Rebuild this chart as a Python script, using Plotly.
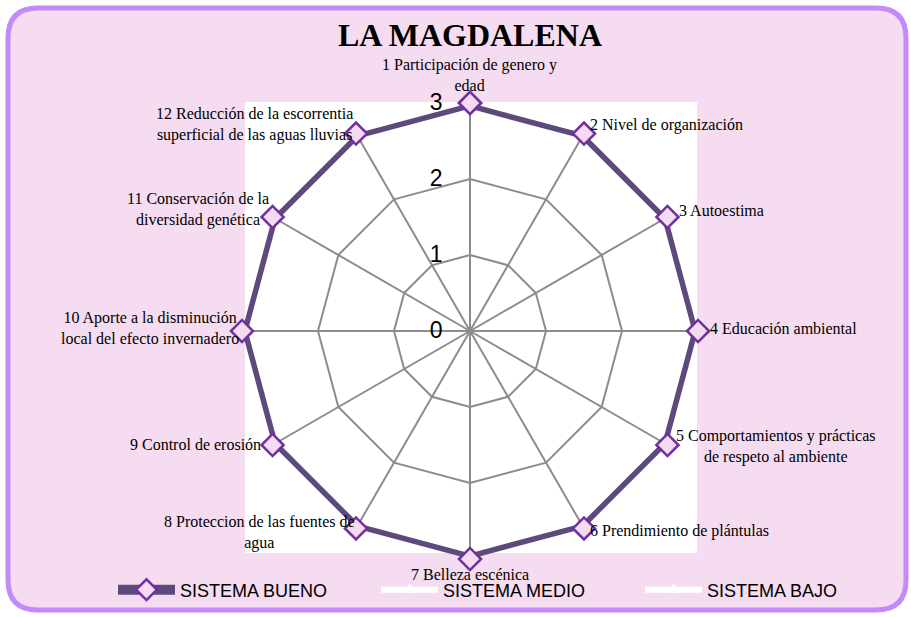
import plotly.graph_objects as go

# categorias del radar (en el orden de las agujas del reloj, empezando arriba)
categorias = ["1 Participación de genero y<br>edad", "2 Nivel de organización", "3 Autoestima",
              "4 Educación ambiental", "5 Comportamientos y prácticas<br>de respeto al ambiente",
              "6 Prendimiento de plántulas", "7 Belleza escénica",
              "8 Proteccion de las fuentes de<br>agua", "9 Control de erosión",
              "10 Aporte a la disminución<br>local del efecto invernadero",
              "11 Conservación de la<br>diversidad genética",
              "12 Reducción de la escorrentia<br>superficial de las aguas lluvias"]
ids = [str(i) for i in range(1, 13)]
sistema_bueno = [3, 3, 3, 3, 3, 3, 3, 3, 3, 3, 3, 3]
sistema_medio = [0, 0, 0, 0, 0, 0, 0, 0, 0, 0, 0, 0]
sistema_bajo = [0, 0, 0, 0, 0, 0, 0, 0, 0, 0, 0, 0]
radial_ticks = [0, 1, 2, 3]

W, H = 911, 617

def px(x, y):
    return x / W, 1 - y / H

# polar box in pixels
cx, cy, rad = 470, 331, 228
dx0, dy0 = px(cx - rad, cy + rad)
dx1, dy1 = px(cx + rad, cy - rad)

fig = go.Figure()

def closed(v):
    return v + v[:1]

fig.add_trace(go.Scatterpolar(r=closed(sistema_bueno), theta=closed(ids), mode='lines+markers',
                              name='SISTEMA BUENO', legend='legend',
                              line=dict(color='#5c4a7d', width=11),
                              marker=dict(symbol='diamond', size=17, color='#f4dbf1',
                                          line=dict(color='#7030a0', width=2.5))))
fig.add_trace(go.Scatterpolar(r=closed(sistema_medio), theta=closed(ids), mode='lines+markers',
                              name='SISTEMA MEDIO', legend='legend2',
                              line=dict(color='white', width=6),
                              marker=dict(symbol='triangle-up', size=12, color='white')))
fig.add_trace(go.Scatterpolar(r=closed(sistema_bajo), theta=closed(ids), mode='lines+markers',
                              name='SISTEMA BAJO', legend='legend3',
                              line=dict(color='white', width=6),
                              marker=dict(symbol='triangle-up', size=12, color='white')))

# posiciones de las etiquetas (pixeles) -> anotaciones
label_pos = [(470, 75, 'center'), (588, 125, 'left'), (677, 210, 'left'), (708, 328, 'left'),
             (776, 446, 'center'), (588, 531, 'left'), (470, 574, 'center'), (259, 532, 'center'),
             (263, 445, 'right'), (150, 328, 'center'), (198, 209, 'center'), (254, 124, 'center')]
annots = []
for txt, (x, y, al) in zip(categorias, label_pos):
    ax, ay = px(x, y)
    annots.append(dict(x=ax, y=ay, xref='paper', yref='paper', text=txt, showarrow=False,
                       xanchor=al, yanchor='middle', align='center',
                       font=dict(family='Liberation Serif, serif', size=16, color='#000')))

legend_font = dict(family='Liberation Sans', size=18, color='#000')

def leg(xpix):
    return dict(orientation='h', x=xpix / W, xanchor='left', y=1 - 590 / H, yanchor='middle',
                bgcolor='rgba(0,0,0,0)', itemwidth=57, font=legend_font)

rx0, ry0 = px(245, 553)
rx1, ry1 = px(697, 102)

fig.update_layout(
    width=W, height=H,
    margin=dict(l=0, r=0, t=0, b=0),
    paper_bgcolor='white',
    title=dict(text='<b>LA MAGDALENA</b>', x=470 / W, xanchor='center', y=1 - 35 / H, yanchor='middle',
               font=dict(family='Liberation Serif, serif', size=32, color='#000')),
    polar=dict(
        domain=dict(x=[dx0, dx1], y=[dy0, dy1]),
        bgcolor='white',
        gridshape='linear',
        radialaxis=dict(range=[0, 3], tickvals=radial_ticks, angle=90, tickangle=90,
                        side='counterclockwise',
                        ticks='outside', ticklen=19, tickcolor='rgba(0,0,0,0)',
                        showline=False, gridcolor='#8c8c8c', gridwidth=1.5,
                        tickfont=dict(family='Liberation Sans', size=23, color='#000')),
        angularaxis=dict(rotation=90, direction='clockwise', showticklabels=False, ticks='',
                         showline=False, gridcolor='#8c8c8c', gridwidth=1.5),
    ),
    showlegend=True,
    legend=leg(113),
    legend2=leg(376),
    legend3=leg(640),
    annotations=annots,
    shapes=[
        dict(type='rect', xref='paper', yref='paper', x0=rx0, x1=rx1, y0=ry0, y1=ry1,
             fillcolor='white', line=dict(width=0), layer='below'),
    ],
)

# marco redondeado rosa
r = 30
x0, y0, x1, y1 = 8, 8, 906, 610
path = (f"M {(x0 + r) / W},{1 - y0 / H} L {(x1 - r) / W},{1 - y0 / H} "
        f"Q {x1 / W},{1 - y0 / H} {x1 / W},{1 - (y0 + r) / H} "
        f"L {x1 / W},{1 - (y1 - r) / H} Q {x1 / W},{1 - y1 / H} {(x1 - r) / W},{1 - y1 / H} "
        f"L {(x0 + r) / W},{1 - y1 / H} Q {x0 / W},{1 - y1 / H} {x0 / W},{1 - (y1 - r) / H} "
        f"L {x0 / W},{1 - (y0 + r) / H} Q {x0 / W},{1 - y0 / H} {(x0 + r) / W},{1 - y0 / H} Z")
fig.add_shape(type='path', xref='paper', yref='paper', path=path, fillcolor='#f5dcf0',
              line=dict(color='#c38af8', width=5), layer='below')
# move frame before white rect so it is drawn under it
fig.layout.shapes = fig.layout.shapes[::-1]

fig.write_html("out.html", config={'displayModeBar': False},
               post_script="document.body.style.margin='0';")
